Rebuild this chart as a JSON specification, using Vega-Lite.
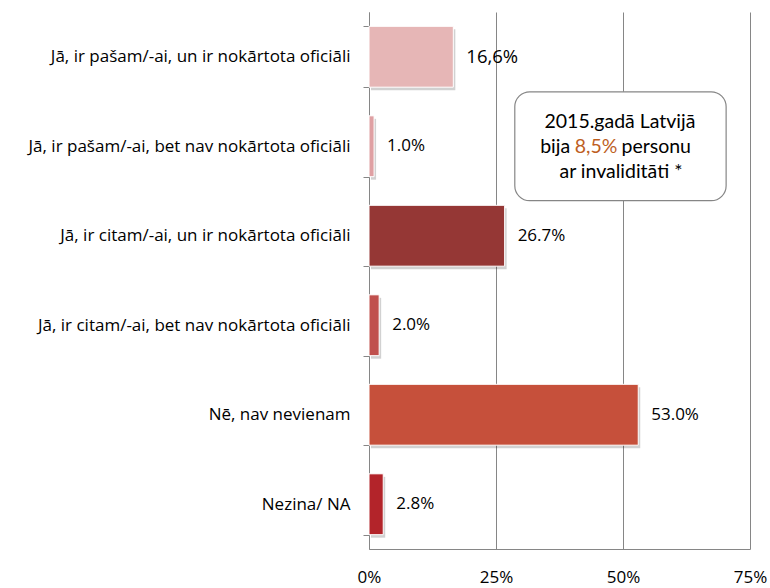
{
  "$schema": "https://vega.github.io/schema/vega-lite/v6.json",
  "width": 381,
  "height": 537,
  "autosize": "none",
  "padding": {"left": 369, "top": 12, "right": 20, "bottom": 39},
  "background": "white",
  "config": {"view": {"stroke": null}, "font": "Open Sans"},
  "datasets": {
    "bars": [
      {"category": "Jā, ir pašam/-ai, un ir nokārtota oficiāli", "value": 0.166, "label": "16,6%"},
      {"category": "Jā, ir pašam/-ai, bet nav nokārtota oficiāli", "value": 0.010, "label": "1.0%"},
      {"category": "Jā, ir citam/-ai, un ir nokārtota oficiāli", "value": 0.267, "label": "26.7%"},
      {"category": "Jā, ir citam/-ai, bet nav nokārtota oficiāli", "value": 0.020, "label": "2.0%"},
      {"category": "Nē, nav nevienam", "value": 0.530, "label": "53.0%"},
      {"category": "Nezina/ NA", "value": 0.028, "label": "2.8%"}
    ],
    "box": [
      {"category": "Jā, ir pašam/-ai, bet nav nokārtota oficiāli", "x": 0.287, "x2": 0.703}
    ],
    "boxtext": [
      {"category": "Jā, ir pašam/-ai, bet nav nokārtota oficiāli", "x": 0.494, "text": "2015.gadā Latvijā", "line": 1, "part": "c"},
      {"category": "Jā, ir pašam/-ai, bet nav nokārtota oficiāli", "x": 0.396, "text": "bija", "line": 2, "part": "r"},
      {"category": "Jā, ir pašam/-ai, bet nav nokārtota oficiāli", "x": 0.405, "text": "8,5%", "line": 2, "part": "o"},
      {"category": "Jā, ir pašam/-ai, bet nav nokārtota oficiāli", "x": 0.497, "text": "personu", "line": 2, "part": "l"},
      {"category": "Jā, ir pašam/-ai, bet nav nokārtota oficiāli", "x": 0.496, "text": "ar invaliditāti *", "line": 3, "part": "c"}
    ]
  },
  "encoding": {
    "y": {
      "field": "category",
      "type": "nominal",
      "sort": null,
      "scale": {
        "domain": [
          "Jā, ir pašam/-ai, un ir nokārtota oficiāli",
          "Jā, ir pašam/-ai, bet nav nokārtota oficiāli",
          "Jā, ir citam/-ai, un ir nokārtota oficiāli",
          "Jā, ir citam/-ai, bet nav nokārtota oficiāli",
          "Nē, nav nevienam",
          "Nezina/ NA"
        ],
        "paddingInner": 0.32,
        "paddingOuter": 0.16
      },
      "axis": {
        "title": null,
        "tickBand": "extent",
        "domainColor": "#868686",
        "tickColor": "#868686",
        "tickSize": 6,
        "labelPadding": 13,
        "labelFontSize": 17,
        "labelColor": "#000000",
        "labelFont": "Open Sans",
        "labelLimit": 400,
        "grid": false
      }
    }
  },
  "layer": [
    {
      "data": {"name": "bars"},
      "mark": {"type": "bar", "fill": "#000000", "opacity": 0.18, "xOffset": 2, "yOffset": 3},
      "encoding": {
        "x": {
          "field": "value",
          "type": "quantitative",
          "scale": {"domain": [0, 0.75], "nice": false},
          "axis": {
            "title": null,
            "values": [0, 0.25, 0.5, 0.75],
            "format": ".0%",
            "grid": true,
            "gridColor": "#868686",
            "gridWidth": 1,
            "domainColor": "#868686",
            "ticks": false,
            "labelFlush": false,
            "labelPadding": 20,
            "labelFontSize": 17,
            "labelColor": "#000000",
            "labelFont": "Open Sans"
          }
        }
      }
    },
    {
      "data": {"name": "bars"},
      "mark": {"type": "bar", "stroke": "#ffffff", "strokeWidth": 1},
      "encoding": {
        "x": {"field": "value", "type": "quantitative"},
        "color": {
          "field": "category",
          "type": "nominal",
          "legend": null,
          "scale": {
            "domain": [
              "Jā, ir pašam/-ai, un ir nokārtota oficiāli",
              "Jā, ir pašam/-ai, bet nav nokārtota oficiāli",
              "Jā, ir citam/-ai, un ir nokārtota oficiāli",
              "Jā, ir citam/-ai, bet nav nokārtota oficiāli",
              "Nē, nav nevienam",
              "Nezina/ NA"
            ],
            "range": ["#E6B6B6", "#DFA0A3", "#953735", "#C0504D", "#C6503B", "#B3242A"]
          }
        }
      }
    },
    {
      "data": {"name": "bars"},
      "mark": {"type": "text", "align": "left", "baseline": "middle", "dx": 13, "color": "#000000", "font": "Open Sans"},
      "encoding": {
        "x": {"field": "value", "type": "quantitative"},
        "text": {"field": "label"},
        "size": {"condition": {"test": "datum.label == '16,6%'", "value": 18.5}, "value": 17}
      }
    },
    {
      "data": {"name": "box"},
      "mark": {"type": "bar", "fill": "#ffffff", "stroke": "#868686", "strokeWidth": 1.2, "cornerRadius": 15, "height": {"band": 1.79}},
      "encoding": {
        "x": {"field": "x", "type": "quantitative"},
        "x2": {"field": "x2"}
      }
    },
    {
      "data": {"name": "boxtext"},
      "transform": [{"filter": "datum.line == 1"}],
      "mark": {"type": "text", "align": "center", "baseline": "middle", "dy": -24, "fontSize": 19.5, "color": "#000000", "font": "Lato"},
      "encoding": {"x": {"field": "x", "type": "quantitative"}, "text": {"field": "text"}}
    },
    {
      "data": {"name": "boxtext"},
      "transform": [{"filter": "datum.line == 2 && datum.part == 'r'"}],
      "mark": {"type": "text", "align": "right", "baseline": "middle", "dy": 1, "fontSize": 19.5, "color": "#000000", "font": "Lato"},
      "encoding": {"x": {"field": "x", "type": "quantitative"}, "text": {"field": "text"}}
    },
    {
      "data": {"name": "boxtext"},
      "transform": [{"filter": "datum.line == 2 && datum.part == 'o'"}],
      "mark": {"type": "text", "align": "left", "baseline": "middle", "dy": 1, "fontSize": 19.5, "color": "#BE5F1F", "font": "Lato"},
      "encoding": {"x": {"field": "x", "type": "quantitative"}, "text": {"field": "text"}}
    },
    {
      "data": {"name": "boxtext"},
      "transform": [{"filter": "datum.line == 2 && datum.part == 'l'"}],
      "mark": {"type": "text", "align": "left", "baseline": "middle", "dy": 1, "fontSize": 19.5, "color": "#000000", "font": "Lato"},
      "encoding": {"x": {"field": "x", "type": "quantitative"}, "text": {"field": "text"}}
    },
    {
      "data": {"name": "boxtext"},
      "transform": [{"filter": "datum.line == 3"}],
      "mark": {"type": "text", "align": "center", "baseline": "middle", "dy": 26, "fontSize": 19.5, "color": "#000000", "font": "Lato"},
      "encoding": {"x": {"field": "x", "type": "quantitative"}, "text": {"field": "text"}}
    }
  ]
}
